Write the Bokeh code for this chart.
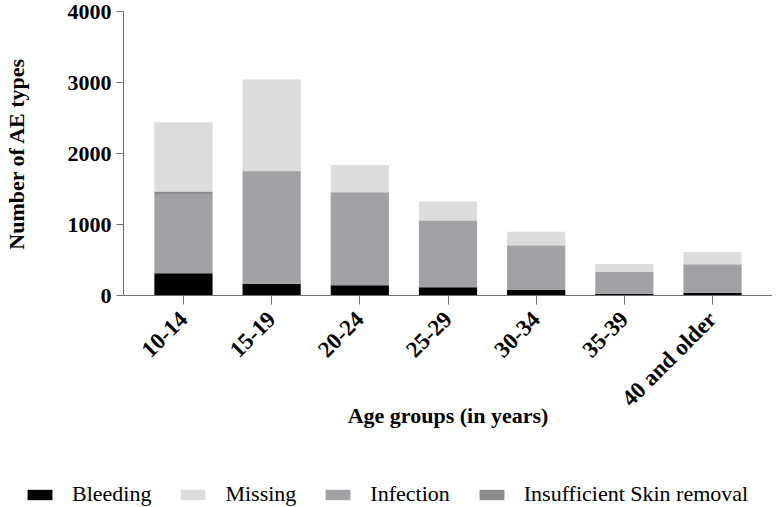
import math
from bokeh.plotting import figure
from bokeh.layouts import column
from bokeh.models import (FactorRange, Range1d, FixedTicker, Legend, LegendItem,
                          ColumnDataSource)
from bokeh.embed import file_html
from bokeh.resources import INLINE

age_groups = ["10-14", "15-19", "20-24", "25-29", "30-34", "35-39", "40 and older"]
bleeding = [315, 167, 144, 116, 79, 24, 37]
infection = [1114, 1578, 1304, 936, 626, 307, 400]
insufficient_skin_removal = [35, 10, 6, 4, 3, 2, 3]
missing = [976, 1287, 385, 269, 191, 111, 171]
y_ticks = [0, 1000, 2000, 3000, 4000]

series_order = ["Bleeding", "Infection", "Insufficient Skin removal", "Missing"]
series_colors = {"Bleeding": "#000000", "Infection": "#a1a1a5",
                 "Insufficient Skin removal": "#8c8c8c", "Missing": "#dcdcdc"}
legend_order = ["Bleeding", "Missing", "Infection", "Insufficient Skin removal"]

source = ColumnDataSource(data={
    "age": age_groups,
    "Bleeding": bleeding,
    "Infection": infection,
    "Insufficient Skin removal": insufficient_skin_removal,
    "Missing": missing,
})

FONT = "Liberation Serif"

p = figure(width=772, height=457, output_backend="svg", toolbar_location=None,
           x_range=FactorRange(factors=age_groups, range_padding=0.18,
                               range_padding_units="absolute"),
           y_range=Range1d(0, 4000))
p.frame_align = False
p.min_border_top = 11
p.min_border_left = 117
p.min_border_right = 0
p.min_border_bottom = 162
p.outline_line_color = None
p.background_fill_color = "white"
p.border_fill_color = "white"
p.xgrid.visible = False
p.ygrid.visible = False

renderers = p.vbar_stack(series_order, x="age", width=0.66, source=source,
                         color=[series_colors[s] for s in series_order],
                         line_color=None)

axis_color = "#6e6e6e"
# y axis
ya = p.yaxis[0]
ya.ticker = FixedTicker(ticks=y_ticks)
ya.axis_line_color = axis_color
ya.major_tick_line_color = axis_color
ya.minor_tick_line_color = None
ya.major_tick_out = 7
ya.major_tick_in = 0
ya.major_label_text_font = FONT
ya.major_label_text_font_style = "bold"
ya.major_label_text_font_size = "22px"
ya.major_label_text_color = "black"
ya.major_label_standoff = 5
ya.axis_label = "Number of AE types"
ya.axis_label_text_font = FONT
ya.axis_label_text_font_style = "bold"
ya.axis_label_text_font_size = "22px"
ya.axis_label_text_color = "black"
ya.axis_label_standoff = 36

# x axis
xa = p.xaxis[0]
xa.axis_line_color = axis_color
xa.major_tick_line_color = axis_color
xa.major_tick_out = 9
xa.major_tick_in = 0
xa.major_label_orientation = math.pi / 4
xa.major_label_text_font = FONT
xa.major_label_text_font_style = "bold"
xa.major_label_text_font_size = "23px"
xa.major_label_text_color = "black"
xa.major_label_standoff = 11
xa.axis_label = "Age groups (in years)"
xa.axis_label_text_font = FONT
xa.axis_label_text_font_style = "bold"
xa.axis_label_text_font_size = "22px"
xa.axis_label_text_color = "black"
xa.axis_label_standoff = -20

# legend in its own strip below the chart; the swatches come from copies of the
# same stacked bars, kept out of this strip's view range
lg = figure(width=772, height=50, output_backend="svg", toolbar_location=None,
            x_range=FactorRange(factors=age_groups), y_range=Range1d(5000, 6000),
            x_axis_type=None, y_axis_type=None)
lg.frame_align = False
lg.min_border_top = 0
lg.min_border_left = 0
lg.min_border_right = 0
lg.min_border_bottom = 0
lg.outline_line_color = None
lg.xgrid.visible = False
lg.ygrid.visible = False
lg_renderers = lg.vbar_stack(series_order, x="age", width=0.66, source=source,
                             color=[series_colors[s] for s in series_order],
                             line_color=None)
lmap = dict(zip(series_order, lg_renderers))
legend = Legend(items=[LegendItem(label=s, renderers=[lmap[s]]) for s in legend_order],
                orientation="horizontal", location=(24, 0),
                label_text_font=FONT, label_text_font_size="22px",
                label_text_color="black",
                glyph_width=31, glyph_height=13, label_standoff=17, spacing=26,
                padding=0, margin=0, border_line_color=None,
                background_fill_alpha=0)
lg.add_layout(legend, "center")

layout = column(p, lg, spacing=0)
open("out.html", "w").write(file_html(layout, INLINE))
